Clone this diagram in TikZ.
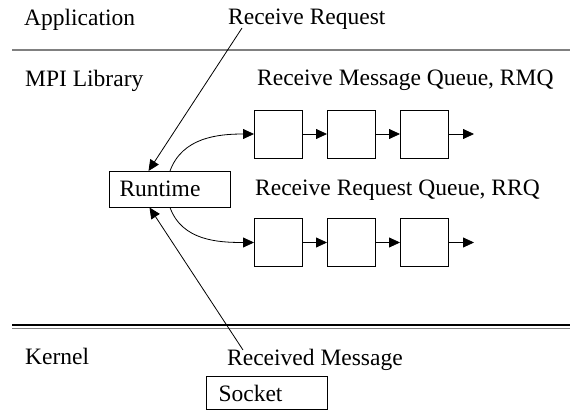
\documentclass[tikz,border=0pt]{standalone}
\usepackage{fontspec}
\setmainfont{Liberation Serif}
\usetikzlibrary{arrows.meta,positioning}

\begin{document}
\begin{tikzpicture}[
  x=1pt, y=-1pt,
  font=\fontsize{23.5}{28}\selectfont,
  node distance=24pt,
  lbl/.style={anchor=base west, inner sep=0pt},
  b/.style={draw, line width=1pt, anchor=north west, minimum height=35.5pt, text width=101pt, inner xsep=10pt, inner ysep=0pt, align=left},
  q/.style={draw, line width=1pt, minimum size=48pt, inner sep=0pt},
  e/.style={-{Triangle[length=11pt,width=10pt]}, line width=0.8pt},
  rule/.style={line width=1.2pt}
]
\useasboundingbox (0,0) rectangle (570,412);

% layers
\node[lbl] (app) at (24,26) {Application};
\node[lbl] (req) at (228,25) {Receive Request};
\draw[rule, gray] (12,50) -- (570,50);

\node[lbl] (mpi) at (25,86) {MPI Library};
\node[lbl] (rmq) at (257,85) {Receive Message Queue, RMQ};
\node[b] (rt) at (109,171) {Runtime};
\node[lbl] (rrq) at (255,195) {Receive Request Queue, RRQ};

\draw[rule] (12,325) -- (570,325);
\draw[rule, gray] (12,328.5) -- (570,328.5);

\node[lbl] (kern) at (25,364) {Kernel};
\node[lbl] (recv) at (227,365) {Received Message};
\node[b, inner xsep=12pt, text width=97pt, minimum height=33pt] (sock) at (206,376) {Socket};

% the two queues
\foreach \r/\y in {m/134, r/242.5} {
  \node[q] (\r1) at (278.5,\y) {};
  \node[q, right=of \r1] (\r2) {};
  \node[q, right=of \r2] (\r3) {};
  \coordinate[right=25pt of \r3] (\r4);
  \draw[e] (\r1) -- (\r2);
  \draw[e] (\r2) -- (\r3);
  \draw[e] (\r3) -- (\r4);
}

\draw[e] ([shift={(14,3)}]req.base west) -- ([xshift=-21.5pt]rt.north);
\draw[e] ([shift={(16,-15)}]recv.base west) -- ([xshift=-20.5pt]rt.south);
\draw[e] (rt.north) to[out=70, in=180] (m1.west);
\draw[e] (rt.south) to[out=-70, in=180] (r1.west);
\end{tikzpicture}
\end{document}
